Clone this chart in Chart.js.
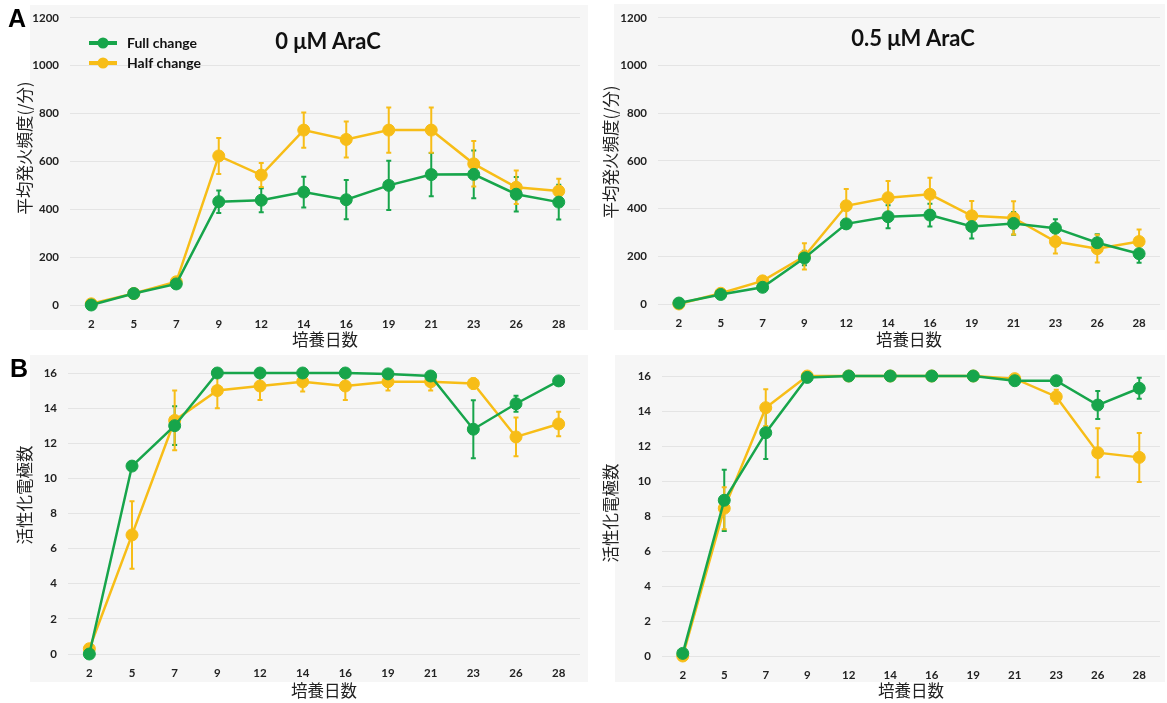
<!DOCTYPE html>
<html>
<head>
<meta charset="utf-8">
<script src="https://cdn.jsdelivr.net/npm/chart.js@4.4.1/dist/chart.umd.min.js"></script>
<style>
  html, body { margin: 0; padding: 0; background: #fff; }
  #wrap { position: relative; width: 1167px; height: 703px; overflow: hidden; }
  .panel { position: absolute; background: #f6f6f6; }
  canvas { position: absolute; }
  .letter { position: absolute; font: bold 25px "Liberation Sans", Arial, sans-serif; color: #000; transform: translate(-50%, -50%); }
  .ptitle { position: absolute; font: bold 22px Lato, sans-serif; color: #111; transform: translate(-50%, -50%); white-space: nowrap; }
  .ytitle { position: absolute; font: 16.5px "Noto Sans CJK JP", sans-serif; color: #222; white-space: nowrap;
            transform: translate(-50%, -50%) rotate(-90deg); }
</style>
</head>
<body>
<div id="wrap">
  <div class="panel" style="left:30px;top:5px;width:558px;height:325px"></div>
  <div class="panel" style="left:614px;top:4px;width:551px;height:326px"></div>
  <div class="panel" style="left:30px;top:355px;width:558px;height:327px"></div>
  <div class="panel" style="left:615px;top:355px;width:550px;height:327px"></div>

  <canvas id="rate0" width="590" height="352" style="left:0;top:0"></canvas>
  <canvas id="rate05" width="577" height="352" style="left:590px;top:0"></canvas>
  <canvas id="elec0" width="590" height="351" style="left:0;top:352px"></canvas>
  <canvas id="elec05" width="577" height="351" style="left:590px;top:352px"></canvas>

  <div class="letter" style="left:17px;top:18px">A</div>
  <div class="letter" style="left:19px;top:368px">B</div>
  <div class="ptitle" style="left:328px;top:40px">0 μM AraC</div>
  <div class="ptitle" style="left:913px;top:37px">0.5 μM AraC</div>
  <div class="ytitle" style="left:24px;top:148px">平均発火頻度(/分)</div>
  <div class="ytitle" style="left:610px;top:152px">平均発火頻度(/分)</div>
  <div class="ytitle" style="left:24px;top:495px">活性化電極数</div>
  <div class="ytitle" style="left:610px;top:513px">活性化電極数</div>
</div>
<script>
// culture days (x categories)
const days = ['2', '5', '7', '9', '12', '14', '16', '19', '21', '23', '26', '28'];
const seriesNames = ['Full change', 'Half change'];

// A: mean firing rate (/min), 0 uM AraC
const rateFull0 = [0, 48, 88, 432, 438, 472, 440, 500, 545, 546, 463, 430];
const rateFull0Err = [5, 8, 10, 47, 50, 64, 82, 103, 90, 100, 72, 73];
const rateHalf0 = [5, 48, 97, 623, 543, 731, 692, 731, 731, 590, 492, 476];
const rateHalf0Err = [8, 8, 12, 75, 50, 74, 75, 95, 95, 95, 70, 52];

// A: mean firing rate (/min), 0.5 uM AraC
const rateFull05 = [4, 40, 70, 193, 336, 366, 373, 325, 338, 318, 257, 211];
const rateFull05Err = [3, 6, 8, 30, 15, 48, 48, 50, 48, 37, 36, 38];
const rateHalf05 = [0, 45, 97, 200, 412, 446, 460, 370, 361, 262, 232, 262];
const rateHalf05Err = [3, 6, 10, 55, 70, 70, 70, 62, 70, 50, 58, 50];

// B: active electrodes, 0 uM AraC
const elecFull0 = [0, 10.7, 13.0, 16, 16, 16, 16, 15.95, 15.83, 12.8, 14.25, 15.55];
const elecFull0Err = [0, 0.2, 1.1, 0, 0, 0, 0, 0.05, 0.15, 1.65, 0.45, 0.1];
const elecHalf0 = [0.3, 6.78, 13.3, 15.0, 15.26, 15.5, 15.26, 15.5, 15.5, 15.4, 12.36, 13.1];
const elecHalf0Err = [0.2, 1.92, 1.7, 1.0, 0.8, 0.55, 0.8, 0.5, 0.5, 0.3, 1.1, 0.7];

// B: active electrodes, 0.5 uM AraC
const elecFull05 = [0.15, 8.9, 12.76, 15.92, 16, 16, 16, 16, 15.73, 15.73, 14.34, 15.3];
const elecFull05Err = [0.1, 1.75, 1.5, 0.1, 0, 0, 0, 0, 0.2, 0.2, 0.8, 0.6];
const elecHalf05 = [0, 8.44, 14.19, 16, 16, 16, 16, 16, 15.85, 14.82, 11.62, 11.35];
const elecHalf05Err = [0, 1.2, 1.05, 0, 0, 0, 0, 0, 0.1, 0.4, 1.4, 1.4];

const rateTicks = { min: 0, max: 1200, step: 200 };
const elecTicks = { min: 0, max: 16, step: 2 };

const GREEN = '#17a54b';
const GOLD = '#f7bd17';

// error bars, drawn under the lines and markers
const errorBars = {
    id: 'errorBars',
    beforeDatasetsDraw(chart) {
        const { ctx, scales: { y } } = chart;
        chart.data.datasets.forEach((ds, i) => {
            if (!ds.errors) return;
            const meta = chart.getDatasetMeta(i);
            ctx.save();
            ctx.strokeStyle = ds.borderColor;
            ctx.lineWidth = 2;
            meta.data.forEach((pt, j) => {
                const e = ds.errors[j];
                if (!e) return;
                const top = y.getPixelForValue(ds.data[j] + e);
                const bot = y.getPixelForValue(ds.data[j] - e);
                ctx.beginPath();
                ctx.moveTo(pt.x, top); ctx.lineTo(pt.x, bot);
                ctx.moveTo(pt.x - 2.5, top); ctx.lineTo(pt.x + 2.5, top);
                ctx.moveTo(pt.x - 2.5, bot); ctx.lineTo(pt.x + 2.5, bot);
                ctx.stroke();
            });
            ctx.restore();
        });
    }
};

// small legend inside the plot (only first panel)
const innerLegend = {
    id: 'innerLegend',
    afterDraw(chart, args, opts) {
        if (!opts.show) return;
        const ctx = chart.ctx;
        ctx.save();
        chart.data.datasets.forEach((ds, i) => {
            const y = opts.y + i * opts.gap;
            ctx.strokeStyle = ds.borderColor;
            ctx.lineWidth = 4;
            ctx.beginPath();
            ctx.moveTo(opts.x, y); ctx.lineTo(opts.x + 28, y);
            ctx.stroke();
            ctx.fillStyle = ds.borderColor;
            ctx.beginPath();
            ctx.arc(opts.x + 14, y, 5.5, 0, Math.PI * 2);
            ctx.fill();
            ctx.fillStyle = '#111';
            ctx.font = 'bold 14px Lato, sans-serif';
            ctx.textBaseline = 'middle';
            ctx.fillText(ds.label, opts.x + 38, y);
        });
        ctx.restore();
    }
};

function series(label, color, data, errors) {
    return {
        label: label,
        data: data,
        errors: errors,
        borderColor: color,
        backgroundColor: color,
        borderWidth: 2.5,
        pointRadius: 6,
        pointBorderWidth: 1,
        pointBackgroundColor: color,
        pointBorderColor: color,
        tension: 0,
        clip: false
    };
}

function makeChart(id, full, fullErr, half, halfErr, ticks, box, legend) {
    const ctx = document.getElementById(id).getContext('2d');
    return new Chart(ctx, {
        type: 'line',
        data: {
            labels: days,
            datasets: [
                series(seriesNames[0], GREEN, full, fullErr),
                series(seriesNames[1], GOLD, half, halfErr)
            ]
        },
        plugins: [errorBars, innerLegend],
        options: {
            responsive: false,
            animation: false,
            layout: { padding: { left: 0, top: box.top, right: box.right, bottom: 0 } },
            plugins: {
                legend: { display: false },
                tooltip: { enabled: false },
                innerLegend: legend || { show: false }
            },
            scales: {
                x: {
                    type: 'category',
                    offset: true,
                    grid: { display: false, drawTicks: false },
                    border: { display: false },
                    ticks: { color: '#222', padding: 12, font: { family: 'Lato', weight: 'bold', size: 11.5 } },
                    title: {
                        display: true,
                        text: '培養日数',
                        color: '#222',
                        font: { family: '"Noto Sans CJK JP"', size: 16.5 },
                        padding: { top: 0, bottom: 2 }
                    },
                    afterFit: s => { s.height = box.xh; }
                },
                y: {
                    min: ticks.min,
                    max: ticks.max,
                    grid: { color: '#e4e4e4', lineWidth: 1, drawTicks: false },
                    border: { display: false },
                    ticks: {
                        stepSize: ticks.step,
                        color: '#222',
                        padding: 11,
                        format: { useGrouping: false },
                        font: { family: 'Lato', weight: 'bold', size: 11.5 }
                    },
                    afterFit: s => { s.width = box.yw; }
                }
            }
        }
    });
}

makeChart('rate0', rateFull0, rateFull0Err, rateHalf0, rateHalf0Err, rateTicks,
    { top: 15, right: 10, xh: 47, yw: 70 }, { show: true, x: 89, y: 43, gap: 20 });
makeChart('rate05', rateFull05, rateFull05Err, rateHalf05, rateHalf05Err, rateTicks,
    { top: 15, right: 2, xh: 48, yw: 68 });
makeChart('elec0', elecFull0, elecFull0Err, elecHalf0, elecHalf0Err, elecTicks,
    { top: 21, right: 10, xh: 49, yw: 68 });
makeChart('elec05', elecFull05, elecFull05Err, elecHalf05, elecHalf05Err, elecTicks,
    { top: 24, right: 5, xh: 47, yw: 72 });
</script>
</body>
</html>
